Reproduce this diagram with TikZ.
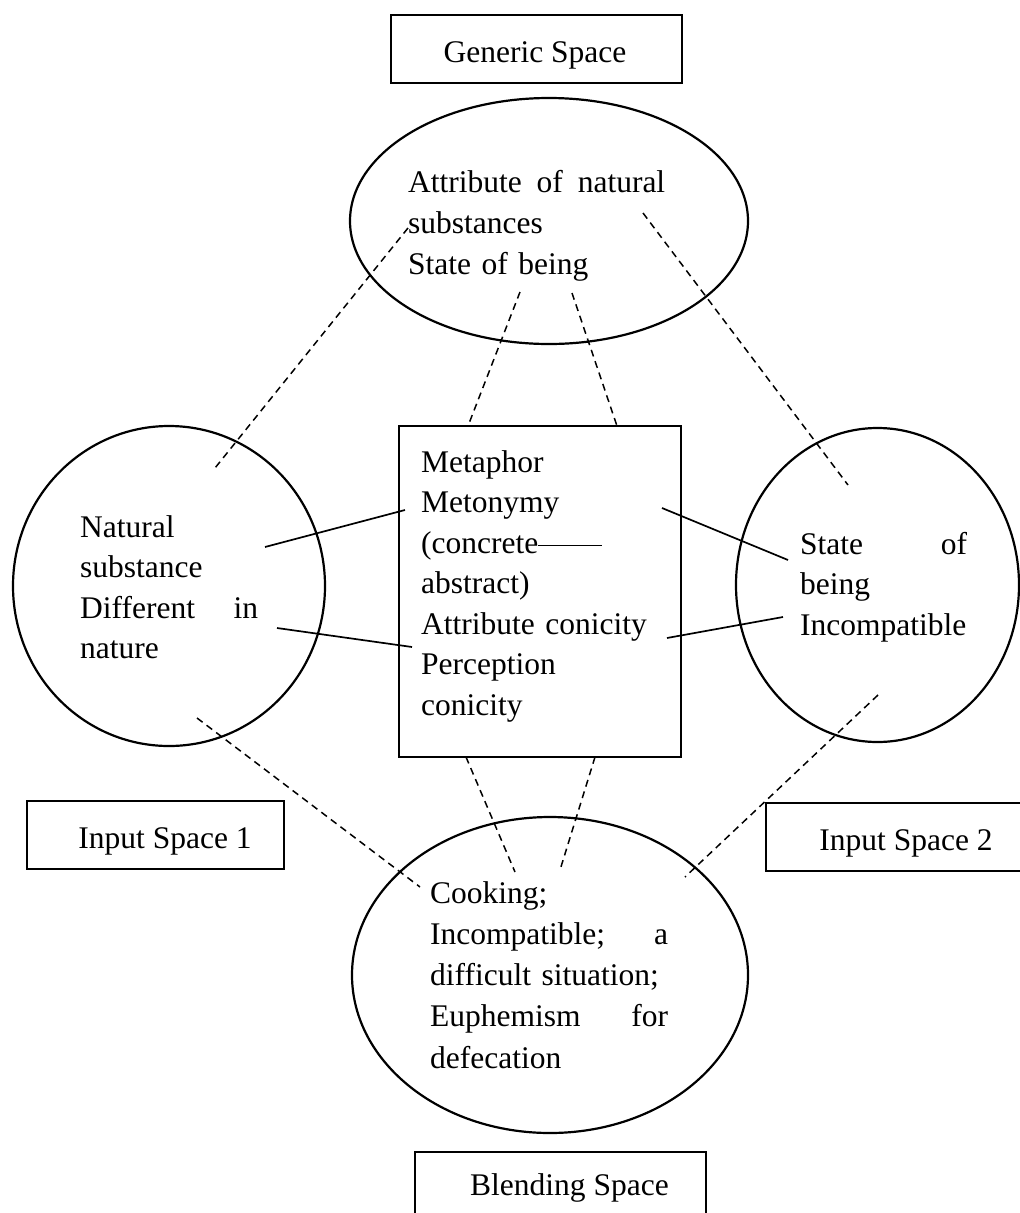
\documentclass[tikz,border=0pt]{standalone}
\usepackage{fontspec}
\setmainfont{Liberation Serif}
\usetikzlibrary{shapes.geometric}
% a line of given width whose words are spread to both edges
\newcommand{\spreadline}[2]{\leavevmode\hbox to #1{#2}}
\begin{document}
\begin{tikzpicture}[x=1pt,y=-1pt,
  shapeline/.style={draw=black, line width=2.2pt},
  spaceshape/.style={shapeline, ellipse, inner sep=0pt},
  framebox/.style={shapeline, rectangle, inner sep=0pt, minimum height=68pt},
  boxlabel/.style={anchor=base, inner sep=0pt, font=\fontsize{31.5}{40.5}\selectfont},
  bodytext/.style={anchor=base west, inner sep=0pt, text width=330pt, align=left,
                   font=\fontsize{31.5}{#1}\selectfont},
  bodytext/.default=40.5,
  linkline/.style={line width=1.7pt},
  dashlink/.style={line width=1.5pt, dash pattern=on 7pt off 5pt},
]
\fill[white] (0,0) rectangle (1020,1213);
\useasboundingbox (0,0) rectangle (1020,1213);

% generic space
\node[framebox, minimum width=291pt] (genbox) at (536.5,49) {};
\node[boxlabel] (genlabel) at (535,62) {Generic Space};
\node[spaceshape, minimum width=398pt, minimum height=246pt] (generic) at (549,221) {};
\node[bodytext=41] (gentext) at (408,192)
  {\spreadline{257pt}{Attribute\hfill of\hfill natural}\\substances\\State of being};

% cross-space mapping
\node[framebox, minimum width=282pt, minimum height=331pt] (cross) at (540,591.5) {};
\node[bodytext] (crosstext) at (421,472)
  {Metaphor\\Metonymy\\(concrete\rule[7pt]{64pt}{1.5pt}\\abstract)\\Attribute conicity\\Perception\\conicity};

% input space 1
\node[spaceshape, minimum width=312pt, minimum height=320pt] (input1) at (169,586) {};
\node[bodytext] (in1text) at (80,537)
  {Natural\\substance\\\spreadline{178pt}{Different\hfill in}\\nature};
\node[framebox, minimum width=257pt] (in1box) at (155.5,835) {};
\node[boxlabel] (in1label) at (165,848) {Input Space 1};

% input space 2
\node[spaceshape, minimum width=283pt, minimum height=314pt] (input2) at (877.5,585) {};
\node[bodytext] (in2text) at (800,554)
  {\spreadline{167pt}{State\hfill of}\\being\\Incompatible};
\node[framebox, minimum width=260pt] (in2box) at (896,837) {};
\node[boxlabel] (in2label) at (906,850) {Input Space 2};

% blended space
\node[spaceshape, minimum width=396pt, minimum height=316pt] (blend) at (550,975) {};
\node[bodytext=41.25] (blendtext) at (430,903)
  {Cooking;\\\spreadline{238pt}{Incompatible;\hfill a}\\difficult situation;\\\spreadline{238pt}{Euphemism\hfill for}\\defecation};
\node[framebox, minimum width=291pt] (blendbox) at (560.5,1186) {};
\node[boxlabel] (blendlabel) at (569.5,1195) {Blending Space};

% connector end points
\coordinate (in1-a) at (265,547);   \coordinate (cross-a) at (405,510);
\coordinate (in1-b) at (277,628);   \coordinate (cross-b) at (412,647);
\coordinate (cross-c) at (662,508); \coordinate (in2-a) at (788,560);
\coordinate (cross-d) at (667,638); \coordinate (in2-b) at (783,617);

\coordinate (generic-a) at (408,228); \coordinate (in1-c) at (215,468);
\coordinate (generic-b) at (520,292); \coordinate (cross-e) at (468,426);
\coordinate (generic-c) at (572,293); \coordinate (cross-f) at (617,426);
\coordinate (generic-d) at (643,213); \coordinate (in2-c) at (848,485);
\coordinate (in1-d) at (197,718);     \coordinate (blend-a) at (420,887);
\coordinate (cross-g) at (466,757);   \coordinate (blend-b) at (515,872);
\coordinate (cross-h) at (595,757);   \coordinate (blend-c) at (560,870);
\coordinate (in2-d) at (878,695);     \coordinate (blend-d) at (685,877);

% cross-space links
\draw[linkline] (in1-a) -- (cross-a);
\draw[linkline] (in1-b) -- (cross-b);
\draw[linkline] (cross-c) -- (in2-a);
\draw[linkline] (cross-d) -- (in2-b);

% projections
\draw[dashlink] (generic-a) -- (in1-c);
\draw[dashlink] (generic-b) -- (cross-e);
\draw[dashlink] (generic-c) -- (cross-f);
\draw[dashlink] (generic-d) -- (in2-c);
\draw[dashlink] (in1-d) -- (blend-a);
\draw[dashlink] (cross-g) -- (blend-b);
\draw[dashlink] (cross-h) -- (blend-c);
\draw[dashlink] (in2-d) -- (blend-d);
\end{tikzpicture}
\end{document}
